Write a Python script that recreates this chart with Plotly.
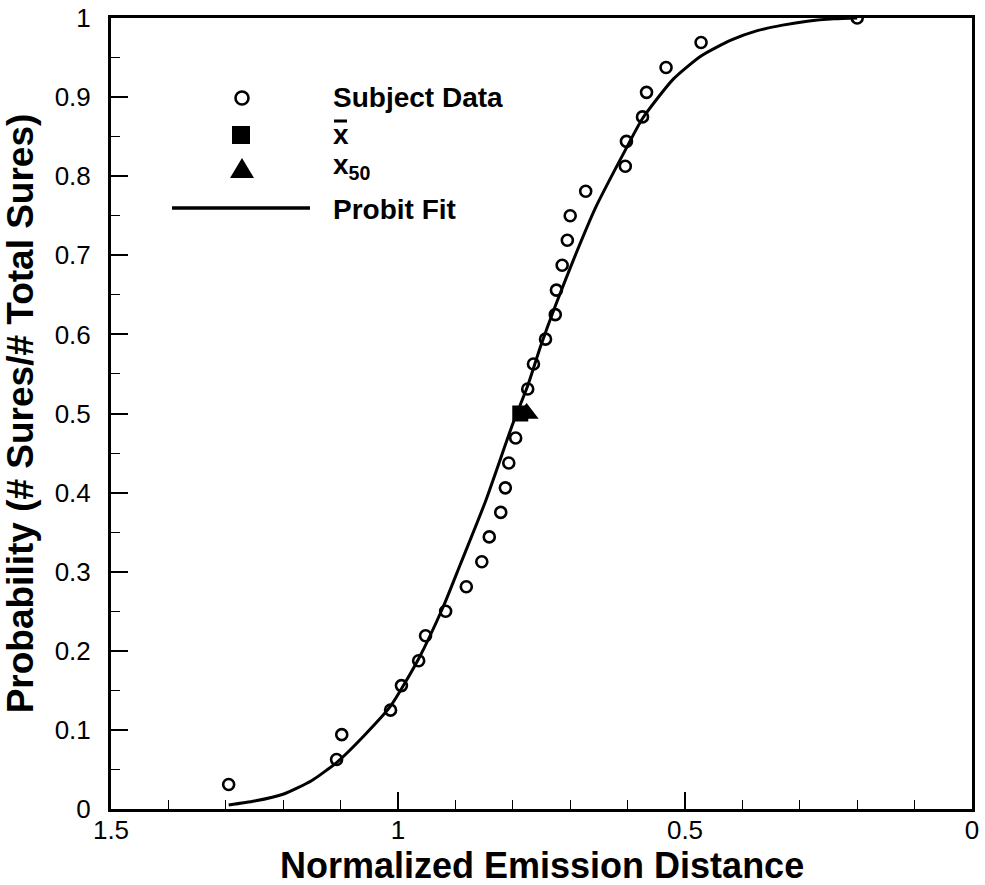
import plotly.graph_objects as go

# ---- data ----
subject_x = [1.295, 1.107, 1.098, 1.013, 0.994, 0.964, 0.952, 0.917, 0.881, 0.854,
             0.841, 0.821, 0.813, 0.807, 0.795, 0.774, 0.764, 0.743, 0.726, 0.724,
             0.714, 0.705, 0.700, 0.673, 0.604, 0.602, 0.574, 0.567, 0.533, 0.472, 0.200]
subject_y = [0.031, 0.0625, 0.094, 0.125, 0.156, 0.1875, 0.219, 0.250, 0.281, 0.3125,
             0.344, 0.375, 0.406, 0.4375, 0.469, 0.531, 0.5625, 0.594, 0.625, 0.656,
             0.6875, 0.719, 0.750, 0.781, 0.8125, 0.844, 0.875, 0.906, 0.9375, 0.969, 1.0]

xbar_x = [0.787]
xbar_y = [0.5]
x50_x = [0.776]
x50_y = [0.5]

fit_x = [1.295, 1.250, 1.199, 1.150, 1.105, 1.060, 1.013, 0.964, 0.921, 0.891,
         0.847, 0.800, 0.774, 0.752, 0.726, 0.690, 0.656, 0.604, 0.574, 0.520,
         0.472, 0.420, 0.374, 0.330, 0.287, 0.240, 0.200]
fit_y = [0.005, 0.010, 0.019, 0.036, 0.060, 0.092, 0.130, 0.190, 0.256, 0.310,
         0.390, 0.487, 0.535, 0.584, 0.636, 0.702, 0.760, 0.833, 0.873, 0.923,
         0.952, 0.972, 0.984, 0.991, 0.996, 0.999, 1.0]

legend_labels = ["<b>Subject Data</b>", "<b>x</b>", "<b>x<sub>50</sub></b>", "<b>Probit Fit</b>"]
x_title = "<b>Normalized Emission Distance</b>"
y_title = "<b>Probability (# Sures/# Total Sures)</b>"

FONT = "Arial, Liberation Sans, sans-serif"

fig = go.Figure()
fig.add_trace(go.Scatter(x=fit_x, y=fit_y, mode="lines",
                         line=dict(color="black", width=3, shape="spline", smoothing=0.6),
                         showlegend=False, hoverinfo="skip"))
fig.add_trace(go.Scatter(x=subject_x, y=subject_y, mode="markers",
                         marker=dict(symbol="circle-open", size=11, color="black",
                                     line=dict(color="black", width=2.6)),
                         showlegend=False))
fig.add_trace(go.Scatter(x=xbar_x, y=xbar_y, mode="markers",
                         marker=dict(symbol="square", size=16, color="black"),
                         showlegend=False))
fig.add_trace(go.Scatter(x=x50_x, y=x50_y, mode="markers",
                         marker=dict(symbol="triangle-up", size=21, color="black"),
                         showlegend=False))

W, H = 985, 885
ml, mr, mt, mb = 111, 13, 18, 76
pw, ph = W - ml - mr, H - mt - mb


def px(x):
    return (x - ml) / pw


def py(y):
    return (H - mb - y) / ph


shapes = []
# legend symbols
cx, cy, r = 242, 98, 6.5
shapes.append(dict(type="circle", xref="paper", yref="paper",
                   x0=px(cx - r), x1=px(cx + r), y0=py(cy + r), y1=py(cy - r),
                   line=dict(color="black", width=2.6)))
cx, cy, r = 241, 135, 9
shapes.append(dict(type="rect", xref="paper", yref="paper",
                   x0=px(cx - r), x1=px(cx + r), y0=py(cy + r), y1=py(cy - r),
                   fillcolor="black", line=dict(width=0)))
shapes.append(dict(type="path", xref="paper", yref="paper",
                   path=f"M {px(242)} {py(158)} L {px(254)} {py(178)} L {px(230)} {py(178)} Z",
                   fillcolor="black", line=dict(width=0)))
shapes.append(dict(type="line", xref="paper", yref="paper",
                   x0=px(172), x1=px(310), y0=py(208), y1=py(208),
                   line=dict(color="black", width=3.5)))
# overbar for x-bar
shapes.append(dict(type="line", xref="paper", yref="paper",
                   x0=px(334), x1=px(347), y0=py(121), y1=py(121),
                   line=dict(color="black", width=3)))

annotations = []
for lab, yy in zip(legend_labels, [97, 134, 166, 209]):
    annotations.append(dict(text=lab, xref="paper", yref="paper", x=px(331), y=py(yy),
                            xanchor="left", yanchor="middle", showarrow=False,
                            font=dict(family=FONT, size=28, color="black")))
# x-axis title placed as text below the tick labels
annotations.append(dict(text=x_title, xref="paper", yref="paper", x=0.5, y=py(865),
                        xanchor="center", yanchor="middle", showarrow=False,
                        font=dict(family=FONT, size=36, color="black")))

axis_common = dict(showgrid=False, zeroline=False, showline=True, linecolor="black",
                   linewidth=3, mirror=True, ticks="inside", tickcolor="black",
                   tickwidth=2, ticklen=17, automargin=False,
                   tickfont=dict(family=FONT, size=26, color="black"))

fig.update_layout(
    width=W, height=H,
    margin=dict(l=ml, r=mr, t=mt, b=mb),
    paper_bgcolor="white", plot_bgcolor="white",
    shapes=shapes, annotations=annotations,
    xaxis=dict(range=[1.5, 0], tick0=0, dtick=0.5, **axis_common,
               ticklabelstandoff=-4,
               minor=dict(dtick=0.1, ticks="inside", ticklen=9, tickwidth=1,
                          tickcolor="black", showgrid=False)),
    yaxis=dict(range=[0, 1], tick0=0, dtick=0.1, **axis_common,
               ticklabelstandoff=12,
               minor=dict(dtick=0.05, ticks="inside", ticklen=9, tickwidth=1,
                          tickcolor="black", showgrid=False),
               title=dict(text=y_title, standoff=10,
                          font=dict(family=FONT, size=37, color="black"))),
)

fig.write_html("out.html")
